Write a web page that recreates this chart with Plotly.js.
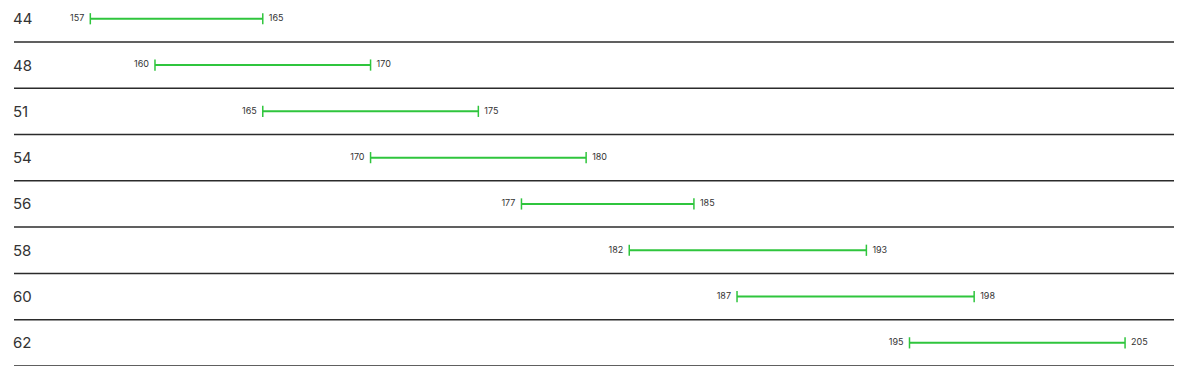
<!DOCTYPE html>
<html>
<head>
<meta charset="utf-8">
<script src="https://cdn.plot.ly/plotly-3.0.1.min.js"></script>
<style>
  html, body { margin: 0; padding: 0; background: #fff; }
  #chart { width: 1200px; height: 377px; }
</style>
</head>
<body>
<div id="chart"></div>
<script>
// Size rows and their height ranges (cm)
const sizes = ['44', '48', '51', '54', '56', '58', '60', '62'];
const rangeLow = [157, 160, 165, 170, 177, 182, 187, 195];
const rangeHigh = [165, 170, 175, 180, 185, 193, 198, 205];

const green = '#2fc53d';
const textColor = '#333333';
const fontFamily = 'Inter, "Open Sans", Arial, sans-serif';

const traces = sizes.map((s, i) => ({
  type: 'scatter',
  mode: 'lines+markers+text',
  x: [rangeLow[i], rangeHigh[i]],
  y: [i, i],
  line: { color: green, width: 2 },
  marker: { symbol: 'line-ns-open', size: 8, color: green, line: { color: green, width: 1.5 } },
  text: [String(rangeLow[i]), String(rangeHigh[i])],
  textposition: ['middle left', 'middle right'],
  textfont: { family: fontFamily, size: 9, color: textColor },
  hoverinfo: 'skip',
  showlegend: false,
  cliponaxis: false
}));

// Row labels on the left edge
const annotations = sizes.map((s, i) => ({
  xref: 'paper', yref: 'y',
  x: 0, y: i,
  xanchor: 'left', yanchor: 'middle',
  xshift: -3,
  text: s,
  showarrow: false,
  font: { family: fontFamily, size: 15, color: textColor }
}));

// Separator rule under each row
const shapes = sizes.map((s, i) => ({
  type: 'line',
  xref: 'paper', yref: 'y',
  x0: 0, x1: 1,
  y0: i + 0.5, y1: i + 0.5,
  line: { color: '#2b2b2b', width: 1.5 }
}));

const layout = {
  width: 1200,
  height: 377,
  margin: { l: 14, r: 26, t: 0, b: 11 },
  paper_bgcolor: '#ffffff',
  plot_bgcolor: '#ffffff',
  xaxis: {
    range: [153.46, 207.27],
    visible: false,
    fixedrange: true
  },
  yaxis: {
    range: [7.5, -0.405],
    visible: false,
    fixedrange: true
  },
  annotations: annotations,
  shapes: shapes
};

Plotly.newPlot('chart', traces, layout, { displayModeBar: false, staticPlot: true });
</script>
</body>
</html>
